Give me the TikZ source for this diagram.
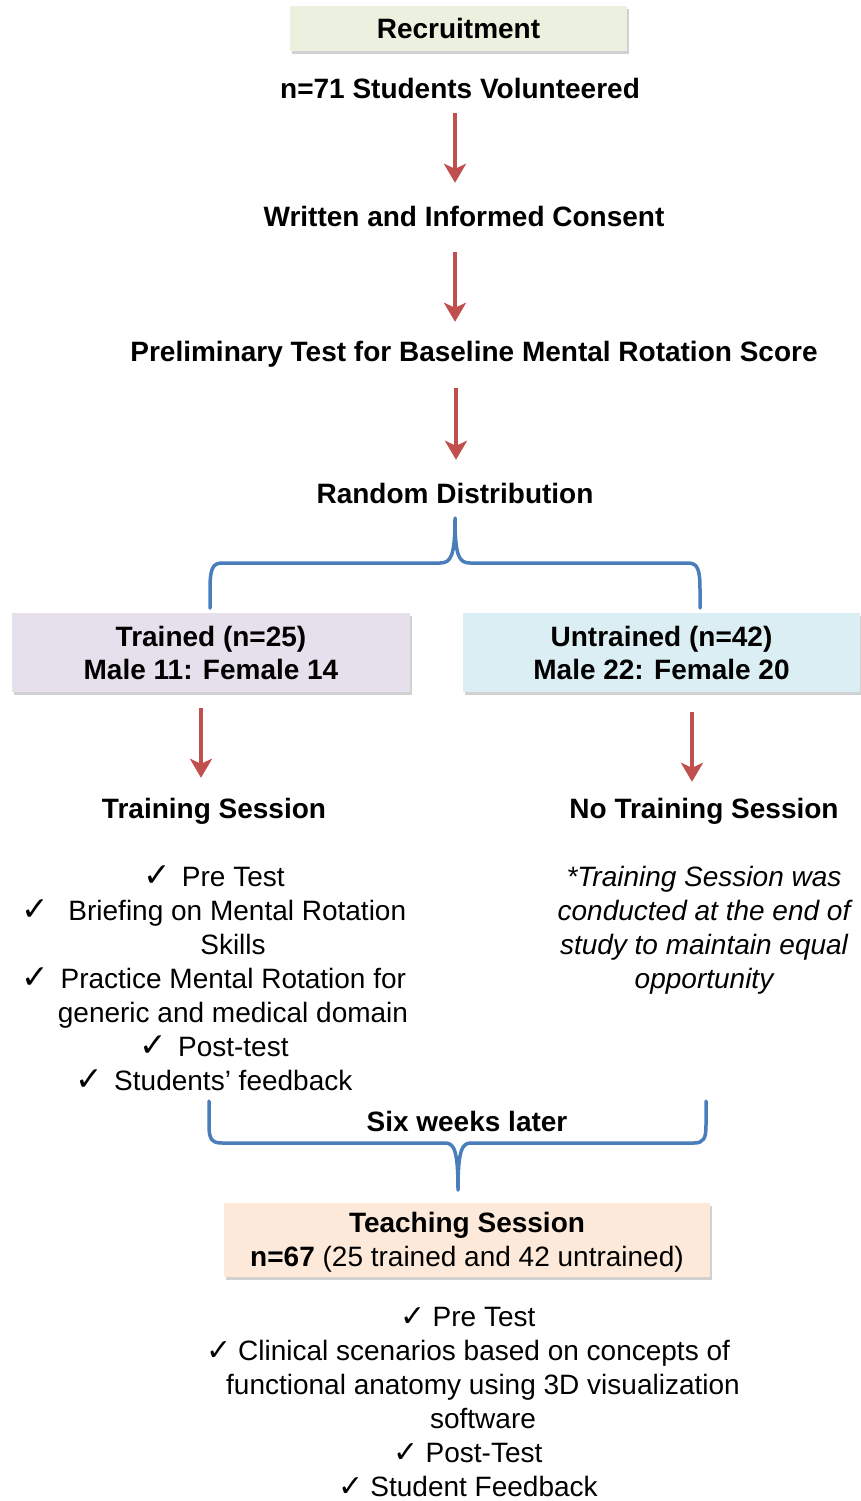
\documentclass[tikz,border=0pt]{standalone}
\usepackage{fontspec}
\setmainfont{Liberation Sans}
\newfontfamily\symfont{DejaVu Sans}
\usetikzlibrary{arrows.meta,shadows}
\definecolor{arrowred}{HTML}{C0504D}
\definecolor{braceblue}{HTML}{4A7EBB}
\definecolor{boxgreen}{HTML}{EBF1DE}
\definecolor{boxpurple}{HTML}{E5E0EC}
\definecolor{boxblue}{HTML}{DBEEF4}
\definecolor{boxpeach}{HTML}{FDE9D9}
\newcommand{\ck}{\smash{\symfont\fontsize{33pt}{34pt}\selectfont ✓}\hspace{11pt}}
\newcommand{\ckb}{\smash{\symfont\fontsize{30pt}{34pt}\selectfont ✓}\hspace{7pt}}
\begin{document}
\begin{tikzpicture}[x=1pt,y=-1pt,
  every node/.style={inner sep=0pt, font=\fontsize{28pt}{34pt}\selectfont},
  title/.style={font=\fontsize{28pt}{34pt}\selectfont\bfseries, text height=21pt, text depth=6pt},
  listtext/.style={align=center},
  box/.style={align=center, drop shadow={shadow xshift=2pt, shadow yshift=-3pt, opacity=0.3, fill=black!60}},
  redarrow/.style={draw=arrowred, line width=4pt, -{Stealth[length=19pt, width=22pt, inset=5pt]}},
  brace/.style={draw=braceblue, line width=3.5pt, line cap=round, line join=round}
]
\useasboundingbox (0,0) rectangle (861,1501);

% top chain
\node[box, fill=boxgreen, minimum width=337pt, minimum height=45pt, font=\fontsize{28pt}{34pt}\selectfont\bfseries] (recruit) at (458.5,28.5) {Recruitment};
\node[title] (n71) at (460,91.5) {n=71 Students Volunteered};
\node[title] (consent) at (464,218.5) {Written and Informed Consent};
\node[title] (prelim) at (474,353.5) {Preliminary Test for Baseline Mental Rotation Score};
\node[title] (random) at (455,495.5) {Random Distribution};

\draw[redarrow] ([xshift=-5pt, yshift=-8pt]n71.south) -- ([xshift=-9pt, yshift=22pt]consent.north);
\draw[redarrow] ([xshift=-9pt, yshift=-20pt]consent.south) -- ([xshift=-19pt, yshift=18pt]prelim.north);
\draw[redarrow] ([xshift=-18pt, yshift=-21pt]prelim.south) -- ([xshift=1pt, yshift=22pt]random.north);

% brace 1
\coordinate (tip1) at (455,518);
\draw[brace] (210,608) -- (210,590) .. controls (210,570) and (212,563) .. (222,563) -- (440,563)
  .. controls (451,563) and (455,556) .. (tip1)
  .. controls (455,556) and (459,563) .. (470,563) -- (688,563)
  .. controls (698,563) and (700,570) .. (700,590) -- (700,608);

% group boxes
\node[box, fill=boxpurple, minimum width=398pt, minimum height=79pt, font=\fontsize{28pt}{33pt}\selectfont\bfseries] (trained) at (211,652.5) {Trained (n=25)\\Male 11: Female 14};
\node[box, fill=boxblue, minimum width=397pt, minimum height=79pt, font=\fontsize{28pt}{33pt}\selectfont\bfseries] (untrained) at (661.5,652.5) {Untrained (n=42)\\Male 22: Female 20};

\node[title] (training) at (214,810.5) {Training Session};
\node[title] (notraining) at (704,810.5) {No Training Session};

\draw[redarrow] ([xshift=-10pt, yshift=-16pt]trained.south) -- ([xshift=-13pt, yshift=19pt]training.north);
\draw[redarrow] ([xshift=30.5pt, yshift=-20pt]untrained.south) -- ([xshift=-12pt, yshift=15pt]notraining.north);

\node[listtext] (tlist) at (214,978.5) {\ck Pre Test\\
  \ck\hspace{8pt}Briefing on Mental Rotation\\
  \hspace*{38pt}Skills\\
  \ck Practice Mental Rotation for\\
  \hspace*{38pt}generic and medical domain\\
  \ck Post-test\\
  \ck Students’ feedback};

\node[listtext, font=\fontsize{28pt}{34pt}\selectfont\itshape] (note) at (704,930) {*Training Session was\\conducted at the end of\\study to maintain equal\\opportunity};

% brace 2
\coordinate (tip2) at (458,1190);
\draw[brace] (209,1101) -- (209,1125) .. controls (209,1138) and (211,1143) .. (222,1143) -- (445,1143)
  .. controls (454,1143) and (458,1150) .. (tip2)
  .. controls (458,1150) and (462,1143) .. (471,1143) -- (694,1143)
  .. controls (704,1143) and (706,1138) .. (706,1125) -- (706,1101);

\node[title] (six) at (467,1123.5) {Six weeks later};

\node[box, fill=boxpeach, minimum width=486pt, minimum height=74pt] (teach) at (467,1240) {\rule{0pt}{24pt}\textbf{Teaching Session}\\\textbf{n=67} (25 trained and 42 untrained)};

\node[listtext] (blist) at (468,1401.5) {\ckb Pre Test\\
  \ckb Clinical scenarios based on concepts of\\
  \hspace*{30pt}functional anatomy using 3D visualization\\
  \hspace*{30pt}software\\
  \ckb Post-Test\\
  \ckb Student Feedback};
\end{tikzpicture}
\end{document}
